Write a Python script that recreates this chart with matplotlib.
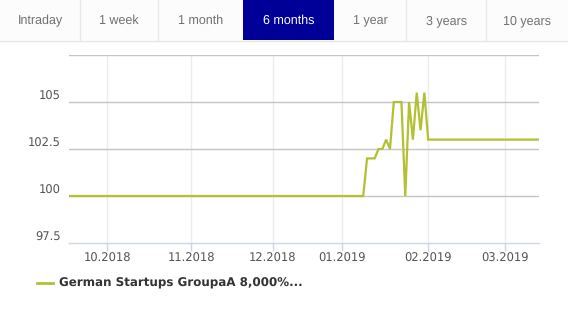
import matplotlib
matplotlib.use("Agg")
import matplotlib.pyplot as plt
from matplotlib.patches import Rectangle
from matplotlib.lines import Line2D
import numpy as np
import pandas as pd

plt.rcParams["text.hinting"] = "no_hinting"

# ---- data ----
tabs = ["Intraday", "1 week", "1 month", "6 months", "1 year", "3 years", "10 years"]
active_tab = "6 months"
series_name = "German Startups GroupaA 8,000%..."

dates = ["2018-09-17", "2019-01-09", "2019-01-10", "2019-01-11", "2019-01-14",
         "2019-01-15", "2019-01-16", "2019-01-17", "2019-01-18", "2019-01-21",
         "2019-01-22", "2019-01-23", "2019-01-24", "2019-01-25", "2019-01-28",
         "2019-01-29", "2019-01-30", "2019-01-31", "2019-02-01", "2019-03-14"]
values = [100, 100, 102, 102, 102,
          102.5, 102.5, 103, 102.5, 105,
          105, 105, 100, 105, 103,
          105.5, 103.5, 105.5, 103, 103]

holidays = ["2018-10-03", "2018-12-24", "2018-12-25", "2018-12-26", "2019-01-01"]
month_ticks = ["2018-10-01", "2018-11-01", "2018-12-01", "2019-01-01", "2019-02-01", "2019-03-01"]
month_labels = ["10.2018", "11.2018", "12.2018", "01.2019", "02.2019", "03.2019"]

y_ticks = [97.5, 100, 102.5, 105]
y_labels = ["97.5", "100", "102.5", "105"]
y_range = (97.5, 107.5)

# ---- ordinal (trading-day) axis ----
trading = pd.bdate_range("2018-09-17", "2019-03-14")
trading = trading[~trading.isin(pd.to_datetime(holidays))]
tnum = trading.values.astype("datetime64[D]").astype(float)
def ordinal(ds):
    d = pd.to_datetime(ds).values.astype("datetime64[D]").astype(float)
    return np.interp(d, tnum, np.arange(len(tnum)))

x = ordinal(dates)
xt = ordinal(month_ticks)

W, H = 568, 311
fig = plt.figure(figsize=(W / 100, H / 100), dpi=100)
fig.patch.set_facecolor("white")

# ---- tabs ----
edges = [0, 80, 158, 243, 334, 406, 486, 568]
for i, t in enumerate(tabs):
    x0, x1 = edges[i], edges[i + 1]
    act = (t == active_tab)
    fig.add_artist(Rectangle((x0 / W, 1 - 40 / H), (x1 - x0) / W, 40 / H,
                             transform=fig.transFigure,
                             facecolor="#000099" if act else "#fcfcfc",
                             edgecolor="none"))
    if i > 0 and not act and tabs[i - 1] != active_tab:
        fig.add_artist(Line2D([x0 / W, x0 / W], [1 - 40 / H, 1], transform=fig.transFigure,
                              color="#e8e8e8", lw=1))
    fig.text((x0 + x1) / 2 / W, 1 - 20.5 / H, t, ha="center", va="center",
             fontsize=9.0, family="Liberation Sans",
             color="white" if act else "#707070")
fig.add_artist(Line2D([0, 1], [1 - 40.5 / H, 1 - 40.5 / H], transform=fig.transFigure,
                      color="#e6e6e6", lw=1))

# ---- axes ----
ax = fig.add_axes([69 / W, 1 - 243 / H, (539 - 69) / W, (243 - 55) / H])
ax.set_xlim(0, len(tnum) - 1)
ax.set_ylim(*y_range)
for yv in list(y_ticks) + [y_range[1]]:
    if yv == y_range[0]:
        continue
    ax.axhline(yv, color="#c4c4c4", lw=1, zorder=1)
for xv in xt:
    ax.axvline(xv, color="#ececec", lw=1, zorder=0)
ax.plot(x, values, color="#b2c032", lw=1.6, zorder=3, solid_joinstyle="miter")

for s in ["top", "right", "left"]:
    ax.spines[s].set_visible(False)
ax.spines["bottom"].set_color("#ccd6eb")
ax.spines["bottom"].set_linewidth(1)
ax.set_xticks(xt)
ax.set_xticklabels(month_labels)
ax.set_yticks(y_ticks)
ax.set_yticklabels(y_labels)
ax.tick_params(axis="x", length=6, width=1, color="#ccd6eb", pad=1,
               labelsize=8.3, labelcolor="#555555")
ax.tick_params(axis="y", length=0, pad=6, labelsize=8.3, labelcolor="#555555")
for lab in ax.get_yticklabels():
    lab.set_verticalalignment("bottom")

# ---- legend ----
fig.add_artist(Line2D([37 / W, 53 / W], [1 - 283 / H, 1 - 283 / H], transform=fig.transFigure,
                      color="#b2c032", lw=2))
fig.text(59 / W, 1 - 283 / H, series_name, ha="left", va="center",
         fontsize=8.6, fontweight="bold", color="#333333", family="DejaVu Sans")

fig.savefig("out.png", dpi=100, facecolor="white")
